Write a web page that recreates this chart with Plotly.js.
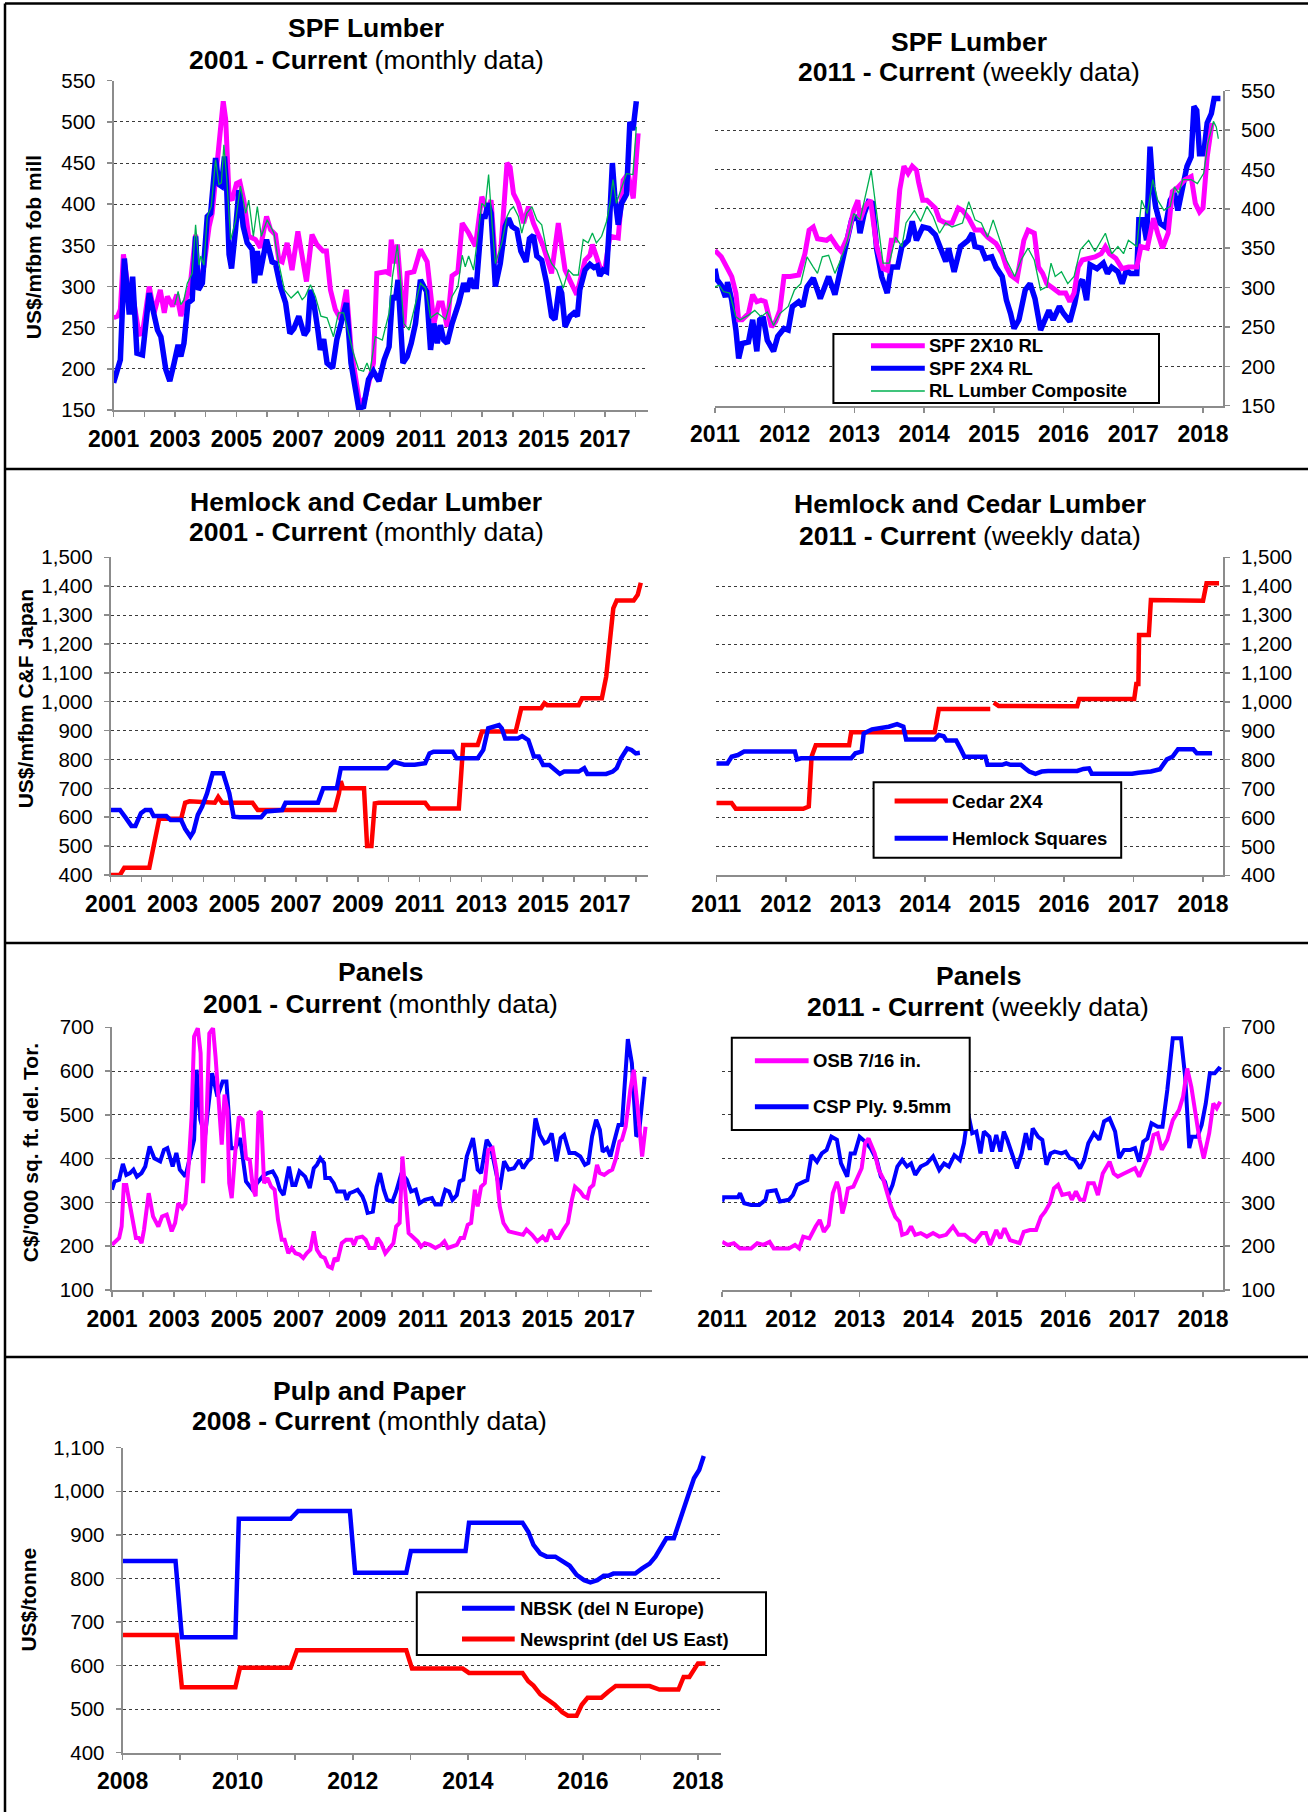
<!DOCTYPE html>
<html><head><meta charset="utf-8">
<script src="https://cdn.plot.ly/plotly-3.0.1.min.js"></script>
<style>html,body{margin:0;padding:0;background:#fff}#chart{width:1308px;height:1812px}</style>
</head><body><div id="chart"></div>
<script>
// ---------------- DATA (year, value) ----------------
const spf2x10Monthly=[[2001.00,262],[2001.13,264],[2001.22,272],[2001.32,339],[2001.45,304],[2001.62,290],[2001.83,242],[2001.94,243],[2002.16,300],[2002.32,268],[2002.52,296],[2002.65,268],[2002.75,288],[2002.92,276],[2003.06,290],[2003.19,264],[2003.35,284],[2003.49,300],[2003.67,363],[2003.76,300],[2003.94,324],[2004.11,373],[2004.21,389],[2004.38,454],[2004.48,494],[2004.57,525],[2004.65,503],[2004.76,409],[2004.86,405],[2005.00,425],[2005.11,427],[2005.24,405],[2005.40,361],[2005.62,357],[2005.78,347],[2005.98,385],[2006.11,369],[2006.27,363],[2006.38,332],[2006.49,330],[2006.65,353],[2006.81,320],[2007.00,367],[2007.14,337],[2007.28,306],[2007.46,363],[2007.62,351],[2007.82,343],[2007.93,343],[2008.06,296],[2008.22,272],[2008.40,260],[2008.58,296],[2008.73,225],[2008.87,187],[2009.01,158],[2009.19,164],[2009.35,187],[2009.46,207],[2009.57,316],[2009.86,318],[2009.97,316],[2010.04,357],[2010.15,328],[2010.24,351],[2010.32,313],[2010.45,251],[2010.56,316],[2010.78,318],[2010.99,345],[2011.21,330],[2011.43,255],[2011.59,280],[2011.70,280],[2011.86,251],[2012.02,313],[2012.21,318],[2012.35,377],[2012.56,365],[2012.78,349],[2012.99,409],[2013.16,393],[2013.29,405],[2013.43,330],[2013.59,335],[2013.81,450],[2013.91,445],[2014.02,413],[2014.18,401],[2014.35,377],[2014.51,397],[2014.67,377],[2014.99,349],[2015.26,316],[2015.48,377],[2015.70,320],[2015.97,296],[2016.08,290],[2016.35,332],[2016.51,338],[2016.59,351],[2016.83,324],[2016.99,320],[2017.16,361],[2017.43,359],[2017.59,429],[2017.75,437],[2017.92,407],[2018.08,486]];
const spf2x4Monthly=[[2001.00,183],[2001.13,197],[2001.22,211],[2001.35,334],[2001.51,266],[2001.62,312],[2001.76,219],[2001.94,217],[2002.16,292],[2002.43,247],[2002.54,239],[2002.70,199],[2002.83,185],[2002.97,207],[2003.10,229],[2003.19,215],[2003.29,231],[2003.42,280],[2003.56,284],[2003.67,361],[2003.76,296],[2003.89,304],[2004.05,385],[2004.16,389],[2004.32,456],[2004.43,424],[2004.51,422],[2004.61,458],[2004.68,422],[2004.76,339],[2004.84,322],[2004.97,369],[2005.08,417],[2005.22,373],[2005.35,353],[2005.51,345],[2005.59,304],[2005.68,343],[2005.76,314],[2005.98,357],[2006.16,330],[2006.27,328],[2006.43,300],[2006.60,280],[2006.74,243],[2006.87,249],[2007.03,264],[2007.21,241],[2007.32,247],[2007.41,296],[2007.52,280],[2007.65,247],[2007.73,223],[2007.84,236],[2007.95,207],[2008.13,201],[2008.27,236],[2008.44,260],[2008.58,280],[2008.73,207],[2008.87,174],[2008.98,152],[2009.14,154],[2009.30,187],[2009.46,197],[2009.64,185],[2009.81,211],[2009.97,227],[2010.08,289],[2010.18,284],[2010.26,308],[2010.35,260],[2010.42,207],[2010.56,215],[2010.69,231],[2010.83,255],[2010.99,308],[2011.10,300],[2011.19,294],[2011.32,223],[2011.43,255],[2011.54,231],[2011.64,253],[2011.75,235],[2011.86,231],[2012.02,255],[2012.24,280],[2012.40,304],[2012.51,294],[2012.62,310],[2012.72,300],[2012.81,300],[2012.89,349],[2012.99,385],[2013.10,385],[2013.19,401],[2013.29,389],[2013.43,300],[2013.59,328],[2013.75,373],[2013.86,383],[2013.97,373],[2014.13,369],[2014.26,343],[2014.43,330],[2014.54,358],[2014.67,362],[2014.78,337],[2014.94,332],[2015.10,304],[2015.26,264],[2015.37,260],[2015.51,300],[2015.59,292],[2015.70,251],[2015.86,264],[2015.99,268],[2016.10,264],[2016.18,296],[2016.35,320],[2016.51,327],[2016.64,323],[2016.75,325],[2016.83,313],[2016.94,320],[2017.05,318],[2017.14,373],[2017.24,450],[2017.32,409],[2017.43,375],[2017.54,401],[2017.70,412],[2017.81,500],[2017.91,490],[2018.02,525]];
const rlCompositeMonthly=[[2002.99,278],[2003.10,294],[2003.19,278],[2003.29,284],[2003.40,304],[2003.56,316],[2003.67,375],[2003.78,326],[2003.84,337],[2003.94,326],[2004.05,385],[2004.18,397],[2004.32,454],[2004.43,424],[2004.51,426],[2004.59,472],[2004.68,433],[2004.81,357],[2004.97,379],[2005.13,422],[2005.30,389],[2005.40,405],[2005.55,361],[2005.68,397],[2005.81,361],[2006.00,381],[2006.22,365],[2006.38,328],[2006.56,296],[2006.78,286],[2007.00,294],[2007.14,284],[2007.24,288],[2007.41,302],[2007.57,288],[2007.75,264],[2007.95,262],[2008.16,239],[2008.32,268],[2008.49,268],[2008.81,219],[2008.98,199],[2009.14,197],[2009.25,207],[2009.35,197],[2009.52,239],[2009.75,235],[2009.97,268],[2010.08,312],[2010.24,351],[2010.35,304],[2010.45,255],[2010.62,247],[2010.83,280],[2010.99,304],[2011.16,298],[2011.32,262],[2011.54,268],[2011.81,260],[2012.02,288],[2012.21,300],[2012.35,338],[2012.45,324],[2012.56,337],[2012.72,320],[2012.83,353],[2012.99,401],[2013.10,397],[2013.21,436],[2013.32,377],[2013.43,328],[2013.64,353],[2013.81,385],[2013.91,393],[2014.02,397],[2014.18,385],[2014.29,365],[2014.45,389],[2014.62,397],[2014.78,381],[2014.94,375],[2015.10,344],[2015.26,328],[2015.43,320],[2015.64,298],[2015.81,320],[2015.97,314],[2016.13,314],[2016.29,357],[2016.45,353],[2016.59,365],[2016.72,353],[2016.89,361],[2017.05,379],[2017.16,401],[2017.26,430],[2017.37,401],[2017.54,420],[2017.70,437],[2017.91,436],[2018.02,494]];

const spf2x10Weekly=[[2011.00,347],[2011.09,339],[2011.18,324],[2011.24,314],[2011.30,293],[2011.34,259],[2011.39,259],[2011.48,267],[2011.54,291],[2011.60,282],[2011.66,284],[2011.72,282],[2011.81,250],[2011.87,257],[2011.93,271],[2011.99,314],[2012.08,314],[2012.20,316],[2012.29,343],[2012.35,373],[2012.41,377],[2012.47,362],[2012.60,360],[2012.66,364],[2012.75,352],[2012.81,346],[2012.90,364],[2012.99,398],[2013.05,411],[2013.08,386],[2013.15,403],[2013.23,411],[2013.32,352],[2013.41,324],[2013.47,322],[2013.53,360],[2013.59,360],[2013.65,424],[2013.71,454],[2013.77,445],[2013.83,454],[2013.89,449],[2013.92,434],[2013.98,411],[2014.04,411],[2014.16,401],[2014.22,386],[2014.31,382],[2014.40,382],[2014.49,401],[2014.55,398],[2014.64,388],[2014.73,373],[2014.82,373],[2014.91,364],[2015.03,356],[2015.12,343],[2015.18,326],[2015.24,316],[2015.33,310],[2015.43,360],[2015.49,373],[2015.58,369],[2015.64,326],[2015.70,318],[2015.76,305],[2015.85,299],[2015.94,293],[2016.03,293],[2016.09,282],[2016.15,293],[2016.21,326],[2016.27,335],[2016.36,337],[2016.45,339],[2016.54,343],[2016.60,352],[2016.66,343],[2016.75,337],[2016.84,324],[2016.93,326],[2017.05,326],[2017.11,352],[2017.20,350],[2017.29,388],[2017.35,369],[2017.42,350],[2017.50,369],[2017.56,422],[2017.65,428],[2017.74,437],[2017.83,441],[2017.89,407],[2017.95,396],[2018.00,401],[2018.06,466],[2018.13,509]];
const spf2x4Weekly=[[2011.00,324],[2011.03,310],[2011.09,303],[2011.15,288],[2011.18,307],[2011.24,284],[2011.30,246],[2011.34,210],[2011.39,229],[2011.48,231],[2011.54,259],[2011.60,219],[2011.64,259],[2011.69,263],[2011.75,233],[2011.84,219],[2011.90,238],[2011.99,248],[2012.05,246],[2012.11,276],[2012.20,282],[2012.26,276],[2012.32,301],[2012.41,312],[2012.51,286],[2012.57,301],[2012.63,314],[2012.72,291],[2012.81,326],[2012.90,356],[2012.96,386],[2013.05,390],[2013.08,369],[2013.14,394],[2013.20,409],[2013.26,407],[2013.32,348],[2013.39,314],[2013.47,293],[2013.53,326],[2013.62,326],[2013.68,352],[2013.77,360],[2013.83,384],[2013.89,360],[2013.98,377],[2014.07,375],[2014.16,367],[2014.25,348],[2014.31,333],[2014.35,350],[2014.43,320],[2014.52,352],[2014.63,360],[2014.69,369],[2014.73,352],[2014.82,350],[2014.88,337],[2014.97,339],[2015.03,326],[2015.12,314],[2015.18,284],[2015.24,267],[2015.29,248],[2015.36,259],[2015.45,297],[2015.52,305],[2015.59,286],[2015.67,246],[2015.73,259],[2015.79,271],[2015.85,259],[2015.94,276],[2016.00,267],[2016.09,257],[2016.16,280],[2016.21,303],[2016.27,310],[2016.33,284],[2016.38,329],[2016.48,324],[2016.57,331],[2016.63,318],[2016.69,326],[2016.78,320],[2016.84,305],[2016.90,322],[2016.96,318],[2017.05,318],[2017.08,386],[2017.14,386],[2017.19,360],[2017.24,479],[2017.28,428],[2017.32,403],[2017.38,382],[2017.46,377],[2017.53,411],[2017.59,420],[2017.64,398],[2017.70,424],[2017.77,454],[2017.83,466],[2017.87,530],[2017.91,525],[2017.95,470],[2018.01,470],[2018.06,509],[2018.12,521],[2018.16,540],[2018.25,540]];
const rlCompositeWeekly=[[2011.00,301],[2011.06,303],[2011.12,295],[2011.21,293],[2011.30,263],[2011.36,259],[2011.48,265],[2011.57,271],[2011.66,263],[2011.75,269],[2011.84,252],[2011.93,267],[2012.05,276],[2012.14,297],[2012.23,305],[2012.32,339],[2012.41,326],[2012.47,318],[2012.54,339],[2012.63,341],[2012.72,318],[2012.81,337],[2012.90,360],[2012.99,394],[2013.08,386],[2013.17,420],[2013.24,449],[2013.32,394],[2013.41,331],[2013.50,331],[2013.59,364],[2013.68,352],[2013.74,382],[2013.86,398],[2013.95,384],[2014.04,403],[2014.13,390],[2014.22,369],[2014.31,382],[2014.40,377],[2014.55,382],[2014.64,409],[2014.73,386],[2014.82,382],[2014.91,364],[2014.99,386],[2015.09,360],[2015.18,335],[2015.30,314],[2015.39,335],[2015.49,350],[2015.58,335],[2015.67,297],[2015.76,301],[2015.82,331],[2015.88,314],[2015.97,320],[2016.06,305],[2016.15,314],[2016.24,348],[2016.36,360],[2016.45,346],[2016.60,369],[2016.69,343],[2016.78,352],[2016.86,343],[2016.93,360],[2017.05,352],[2017.12,411],[2017.20,394],[2017.28,437],[2017.35,411],[2017.44,398],[2017.53,403],[2017.59,428],[2017.65,420],[2017.71,437],[2017.83,437],[2017.92,432],[2018.01,445],[2018.07,483],[2018.15,511],[2018.19,504],[2018.22,489]];

const cedarMonthly=[[2001.00,400],[2001.30,400],[2001.44,425],[2002.25,425],[2002.39,500],[2002.57,595],[2003.28,595],[2003.41,650],[2003.55,655],[2004.37,650],[2004.48,670],[2004.61,650],[2005.59,650],[2005.76,625],[2008.25,625],[2008.39,683],[2008.45,725],[2008.52,700],[2009.20,700],[2009.30,500],[2009.44,500],[2009.55,648],[2009.68,650],[2011.18,650],[2011.32,630],[2012.27,630],[2012.41,850],[2012.88,850],[2013.02,897],[2014.11,897],[2014.29,977],[2014.93,977],[2015.04,995],[2015.13,988],[2016.15,988],[2016.26,1012],[2016.90,1012],[2017.04,1087],[2017.14,1190],[2017.27,1323],[2017.38,1350],[2017.93,1350],[2018.06,1370],[2018.16,1412]];
const hemlockMonthly=[[2001.00,625],[2001.30,625],[2001.50,596],[2001.67,570],[2001.80,570],[2001.98,614],[2002.12,625],[2002.29,625],[2002.39,604],[2002.80,604],[2002.94,590],[2003.28,590],[2003.41,560],[2003.58,533],[2003.68,550],[2003.82,608],[2003.96,637],[2004.12,683],[2004.30,752],[2004.64,752],[2004.84,683],[2004.98,602],[2005.18,600],[2005.87,600],[2006.03,620],[2006.55,625],[2006.66,650],[2007.71,650],[2007.88,700],[2008.32,700],[2008.45,770],[2009.95,770],[2010.16,792],[2010.50,782],[2010.84,782],[2011.04,787],[2011.18,787],[2011.32,821],[2011.45,827],[2012.07,827],[2012.20,804],[2012.88,804],[2013.06,833],[2013.22,908],[2013.57,919],[2013.66,908],[2013.77,873],[2014.18,873],[2014.32,881],[2014.52,867],[2014.70,810],[2014.86,810],[2015.00,781],[2015.20,781],[2015.34,770],[2015.54,750],[2015.68,758],[2016.15,758],[2016.33,770],[2016.43,750],[2017.04,750],[2017.25,758],[2017.38,770],[2017.52,804],[2017.72,838],[2017.86,833],[2018.00,821],[2018.13,823]];
const cedarWeekly=[[2011.00,650],[2011.22,650],[2011.28,630],[2012.25,630],[2012.33,638],[2012.37,810],[2012.43,850],[2012.91,850],[2012.94,895],[2014.14,895],[2014.20,975],[2014.94,975],[2014.96,null],[2014.99,997],[2015.06,986],[2016.19,985],[2016.22,1010],[2017.01,1010],[2017.04,1062],[2017.07,1062],[2017.08,1231],[2017.22,1231],[2017.25,1352],[2018.00,1350],[2018.05,1410],[2018.23,1410]];
const hemlockWeekly=[[2011.00,787],[2011.16,787],[2011.22,810],[2011.31,816],[2011.40,828],[2012.13,828],[2012.16,801],[2012.22,805],[2012.94,805],[2013.00,822],[2013.09,828],[2013.12,891],[2013.24,905],[2013.33,908],[2013.48,914],[2013.60,923],[2013.69,914],[2013.73,870],[2014.14,870],[2014.20,885],[2014.27,881],[2014.31,866],[2014.45,866],[2014.51,839],[2014.57,810],[2014.87,810],[2014.90,782],[2015.11,782],[2015.17,787],[2015.23,782],[2015.38,782],[2015.44,770],[2015.50,759],[2015.59,751],[2015.68,759],[2015.77,761],[2016.19,761],[2016.28,768],[2016.36,770],[2016.40,751],[2016.98,751],[2017.07,755],[2017.25,759],[2017.38,767],[2017.42,782],[2017.48,801],[2017.56,810],[2017.64,836],[2017.86,836],[2017.91,822],[2018.13,822]];

const plyMonthly=[[2001.00,329],[2001.08,348],[2001.23,352],[2001.35,388],[2001.46,363],[2001.58,367],[2001.69,375],[2001.80,359],[2001.95,367],[2002.07,382],[2002.21,428],[2002.30,413],[2002.36,401],[2002.55,394],[2002.67,420],[2002.78,424],[2002.95,382],[2003.07,413],[2003.18,375],[2003.36,359],[2003.53,405],[2003.64,443],[2003.72,603],[2003.84,489],[2003.99,451],[2004.22,595],[2004.39,542],[2004.56,576],[2004.68,576],[2004.83,424],[2004.97,424],[2005.12,447],[2005.31,348],[2005.43,336],[2005.56,325],[2005.66,344],[2005.75,352],[2005.89,363],[2006.00,367],[2006.17,371],[2006.29,356],[2006.40,329],[2006.52,317],[2006.60,344],[2006.69,382],[2006.80,340],[2006.90,340],[2007.03,371],[2007.21,359],[2007.36,333],[2007.49,378],[2007.59,386],[2007.70,401],[2007.82,390],[2007.86,356],[2008.01,356],[2008.13,344],[2008.24,325],[2008.47,325],[2008.55,306],[2008.64,321],[2008.78,325],[2008.90,329],[2009.05,314],[2009.14,298],[2009.22,276],[2009.39,279],[2009.51,336],[2009.62,367],[2009.74,329],[2009.85,306],[2010.02,302],[2010.14,325],[2010.31,367],[2010.48,352],[2010.62,325],[2010.77,329],[2010.89,298],[2011.06,306],[2011.29,310],[2011.40,295],[2011.58,295],[2011.72,329],[2011.84,325],[2011.95,306],[2012.09,317],[2012.18,348],[2012.30,352],[2012.41,405],[2012.61,447],[2012.76,375],[2012.87,367],[2013.05,443],[2013.18,428],[2013.30,382],[2013.47,329],[2013.61,394],[2013.76,375],[2013.93,378],[2014.10,397],[2014.22,378],[2014.37,394],[2014.48,401],[2014.62,492],[2014.76,454],[2014.91,435],[2015.02,439],[2015.14,458],[2015.29,394],[2015.43,447],[2015.54,454],[2015.71,413],[2015.89,413],[2016.06,405],[2016.21,386],[2016.32,390],[2016.44,451],[2016.57,489],[2016.69,466],[2016.78,416],[2016.92,424],[2017.03,405],[2017.15,439],[2017.29,477],[2017.40,477],[2017.59,673],[2017.72,618],[2017.86,451],[2017.95,458],[2018.13,587]];
const osbMonthly=[[2001.00,203],[2001.11,211],[2001.23,219],[2001.31,245],[2001.38,340],[2001.46,340],[2001.58,291],[2001.69,257],[2001.77,219],[2001.86,219],[2001.95,207],[2002.03,238],[2002.18,321],[2002.32,268],[2002.49,245],[2002.61,268],[2002.76,272],[2002.92,234],[2003.03,253],[2003.13,298],[2003.26,287],[2003.36,298],[2003.47,390],[2003.56,496],[2003.64,679],[2003.76,698],[2003.85,641],[2003.93,344],[2004.05,511],[2004.13,686],[2004.25,698],[2004.33,633],[2004.45,511],[2004.53,432],[2004.62,546],[2004.71,511],[2004.77,344],[2004.85,310],[2004.97,420],[2005.08,496],[2005.20,489],[2005.31,401],[2005.43,397],[2005.54,329],[2005.62,314],[2005.71,504],[2005.79,508],[2005.89,344],[2006.00,356],[2006.12,336],[2006.23,329],[2006.34,260],[2006.46,215],[2006.55,215],[2006.67,184],[2006.78,196],[2006.90,184],[2007.03,181],[2007.15,173],[2007.26,184],[2007.38,192],[2007.49,234],[2007.59,192],[2007.72,177],[2007.84,173],[2007.95,154],[2008.07,150],[2008.16,173],[2008.25,166],[2008.39,207],[2008.53,215],[2008.70,215],[2008.78,203],[2008.87,219],[2009.05,222],[2009.16,215],[2009.28,196],[2009.45,196],[2009.54,219],[2009.66,207],[2009.79,184],[2009.93,196],[2010.05,207],[2010.14,245],[2010.25,253],[2010.34,405],[2010.43,329],[2010.54,230],[2010.66,222],[2010.83,211],[2010.94,199],[2011.06,207],[2011.23,203],[2011.40,196],[2011.58,203],[2011.69,211],[2011.80,196],[2011.98,199],[2012.09,203],[2012.21,219],[2012.32,219],[2012.44,249],[2012.55,253],[2012.67,329],[2012.76,291],[2012.87,336],[2012.99,344],[2013.10,420],[2013.24,424],[2013.36,375],[2013.47,291],[2013.59,253],[2013.76,234],[2013.99,230],[2014.22,226],[2014.33,238],[2014.51,226],[2014.68,211],[2014.85,222],[2014.97,211],[2015.10,238],[2015.25,219],[2015.37,219],[2015.52,238],[2015.66,253],[2015.79,306],[2015.89,336],[2016.06,325],[2016.17,314],[2016.29,310],[2016.37,333],[2016.48,340],[2016.60,386],[2016.69,367],[2016.83,363],[2016.98,371],[2017.09,375],[2017.21,401],[2017.32,439],[2017.40,443],[2017.52,473],[2017.67,557],[2017.78,603],[2017.90,519],[2018.05,405],[2018.16,473]];
const plyWeekly=[[2011.00,302],[2011.02,312],[2011.23,312],[2011.26,321],[2011.32,298],[2011.42,294],[2011.54,294],[2011.63,306],[2011.66,325],[2011.78,328],[2011.84,302],[2011.97,306],[2012.03,317],[2012.09,340],[2012.18,347],[2012.24,351],[2012.30,408],[2012.38,393],[2012.45,412],[2012.52,420],[2012.59,450],[2012.67,443],[2012.73,389],[2012.82,359],[2012.87,412],[2012.93,412],[2013.00,450],[2013.08,439],[2013.16,424],[2013.25,397],[2013.31,359],[2013.37,347],[2013.42,317],[2013.48,340],[2013.55,382],[2013.62,397],[2013.69,382],[2013.75,389],[2013.81,363],[2013.89,382],[2013.98,389],[2014.07,405],[2014.16,374],[2014.23,389],[2014.30,382],[2014.38,408],[2014.46,397],[2014.52,435],[2014.58,504],[2014.64,458],[2014.70,462],[2014.76,412],[2014.81,462],[2014.89,450],[2014.93,416],[2014.99,454],[2015.05,416],[2015.10,462],[2015.15,443],[2015.22,412],[2015.29,378],[2015.36,412],[2015.42,458],[2015.48,420],[2015.52,469],[2015.60,450],[2015.66,443],[2015.72,386],[2015.78,412],[2015.84,416],[2015.94,412],[2016.00,416],[2016.06,401],[2016.13,397],[2016.21,378],[2016.27,397],[2016.33,435],[2016.41,458],[2016.49,443],[2016.56,485],[2016.64,492],[2016.72,462],[2016.78,401],[2016.85,420],[2016.94,420],[2017.01,424],[2017.07,393],[2017.13,439],[2017.19,446],[2017.25,481],[2017.34,473],[2017.41,473],[2017.48,557],[2017.56,675],[2017.68,675],[2017.74,587],[2017.80,424],[2017.84,450],[2017.92,450],[2017.98,477],[2018.04,526],[2018.10,595],[2018.17,595],[2018.23,606],[2018.26,603]];
const osbWeekly=[[2011.00,210],[2011.08,203],[2011.17,207],[2011.26,195],[2011.42,195],[2011.51,207],[2011.60,203],[2011.69,210],[2011.75,195],[2011.97,195],[2012.06,203],[2012.12,195],[2012.18,222],[2012.27,218],[2012.36,245],[2012.42,260],[2012.48,233],[2012.55,248],[2012.61,321],[2012.67,347],[2012.70,332],[2012.75,275],[2012.79,298],[2012.83,332],[2012.91,336],[2012.97,359],[2013.03,378],[2013.08,435],[2013.13,446],[2013.22,412],[2013.28,374],[2013.34,355],[2013.40,321],[2013.46,290],[2013.52,267],[2013.58,256],[2013.62,226],[2013.69,230],[2013.75,245],[2013.81,226],[2013.89,230],[2013.98,222],[2014.07,230],[2014.16,222],[2014.26,226],[2014.36,245],[2014.44,226],[2014.53,226],[2014.62,214],[2014.68,210],[2014.78,230],[2014.84,230],[2014.90,203],[2014.99,237],[2015.05,218],[2015.11,241],[2015.19,214],[2015.26,210],[2015.33,207],[2015.39,233],[2015.48,237],[2015.57,237],[2015.64,267],[2015.70,279],[2015.77,298],[2015.83,332],[2015.89,340],[2015.95,317],[2016.05,321],[2016.09,306],[2016.15,325],[2016.21,306],[2016.27,306],[2016.33,344],[2016.41,344],[2016.47,317],[2016.54,366],[2016.60,382],[2016.64,393],[2016.70,366],[2016.76,359],[2016.85,366],[2016.94,374],[2017.01,378],[2017.07,359],[2017.15,389],[2017.22,412],[2017.28,454],[2017.34,458],[2017.40,420],[2017.48,443],[2017.56,488],[2017.65,511],[2017.71,542],[2017.77,606],[2017.83,564],[2017.89,496],[2017.95,443],[2018.01,401],[2018.09,458],[2018.15,526],[2018.20,515],[2018.25,530]];

const nbskMonthly=[[2008.00,840],[2008.92,840],[2009.03,665],[2009.96,665],[2010.02,937],[2010.92,937],[2011.05,955],[2011.95,955],[2012.04,813],[2012.93,813],[2013.01,863],[2013.96,863],[2014.02,928],[2014.95,928],[2015.05,907],[2015.14,877],[2015.26,857],[2015.37,850],[2015.52,850],[2015.64,840],[2015.77,829],[2015.89,808],[2016.02,796],[2016.13,791],[2016.25,796],[2016.36,806],[2016.44,806],[2016.53,811],[2016.91,811],[2017.03,823],[2017.16,834],[2017.26,850],[2017.37,877],[2017.45,892],[2017.58,892],[2017.66,926],[2017.76,965],[2017.83,991],[2017.93,1030],[2018.02,1049],[2018.10,1081]];
const newsprintMonthly=[[2008.00,670],[2008.94,670],[2009.03,550],[2009.96,550],[2010.04,595],[2010.92,595],[2011.03,635],[2012.93,635],[2013.03,593],[2013.91,593],[2014.02,583],[2014.95,583],[2015.05,564],[2015.14,554],[2015.26,534],[2015.39,521],[2015.51,510],[2015.64,493],[2015.74,485],[2015.89,485],[2015.98,510],[2016.08,526],[2016.32,526],[2016.44,540],[2016.57,553],[2017.16,553],[2017.33,545],[2017.66,545],[2017.75,574],[2017.85,574],[2018.00,605],[2018.13,605]];

// ---------------- TEXT ----------------
const titleLine1=['SPF Lumber','SPF Lumber','Hemlock and Cedar Lumber','Hemlock and Cedar Lumber','Panels','Panels','Pulp and Paper'];
const titleBold2=['2001 - Current','2011 - Current','2001 - Current','2011 - Current','2001 - Current','2011 - Current','2008 - Current'];
const titleRest2=['(monthly data)','(weekly data)','(monthly data)','(weekly data)','(monthly data)','(weekly data)','(monthly data)'];
const yTitles=['US$/mfbm fob mill','US$/mfbm C&F Japan',"C$/'000 sq. ft. del. Tor.",'US$/tonne'];
const legSPF=['SPF 2X10 RL','SPF 2X4 RL','RL Lumber Composite'];
const legHC=['Cedar 2X4','Hemlock Squares'];
const legPanels=['OSB 7/16 in.','CSP Ply. 9.5mm'];
const legPulp=['NBSK (del N Europe)','Newsprint (del US East)'];

// ---------------- LAYOUT HELPERS ----------------
const W=1308,H=1812;
const fx=p=>p/W, fy=p=>1-p/H;
const FONT='Liberation Sans, Arial, Helvetica, sans-serif';
const AXC='#8c8c8c';
const BLUE='#0000ff',MAG='#ff00ff',GRN='#00b050',RED='#ff0000';

function xa(l,r,range,tick0,dtick,anchor){
  return {domain:[fx(l),fx(r)],range:range,anchor:anchor,type:'linear',showline:true,linecolor:AXC,linewidth:2,
    ticks:'outside',ticklen:5,tickwidth:1.5,tickcolor:AXC,tickmode:'linear',tick0:tick0,dtick:dtick,
    minor:{dtick:1,tick0:tick0,ticks:'outside',ticklen:5,tickwidth:1.5,tickcolor:AXC,showgrid:false},
    showgrid:false,zeroline:false,fixedrange:true,
    tickfont:{family:FONT,size:23,color:'#000',weight:'bold'},ticklabelstandoff:2};
}
function ya(t,b,range,dtick,anchor,side,fmt){
  return {domain:[fy(b),fy(t)],range:range,anchor:anchor,side:side,showline:true,linecolor:AXC,linewidth:2,
    ticks:'outside',ticklen:5,tickwidth:1.5,tickcolor:AXC,tickmode:'linear',tick0:range[0],dtick:dtick,
    showgrid:true,gridcolor:'#3a3a3a',griddash:'dot',gridwidth:1,zeroline:false,fixedrange:true,
    tickfont:{family:FONT,size:20.5,color:'#000'},tickformat:fmt||'',ticklabelstandoff:7};
}
function tr(d,xr,yr,color,width){
  return {type:'scatter',mode:'lines',x:d.map(p=>p[0]),y:d.map(p=>p[1]),xaxis:xr,yaxis:yr,
    line:{color:color,width:width},connectgaps:false,hoverinfo:'skip',showlegend:false};
}

const traces=[
  tr(spf2x10Monthly,'x','y',MAG,5),
  tr(spf2x4Monthly,'x','y',BLUE,5.5),
  tr(rlCompositeMonthly,'x','y',GRN,1.3),
  tr(spf2x4Weekly,'x2','y2',BLUE,5.5),
  tr(spf2x10Weekly,'x2','y2',MAG,5),
  tr(rlCompositeWeekly,'x2','y2',GRN,1.3),
  tr(cedarMonthly,'x3','y3',RED,4.5),
  tr(hemlockMonthly,'x3','y3',BLUE,4.5),
  tr(cedarWeekly,'x4','y4',RED,4.5),
  tr(hemlockWeekly,'x4','y4',BLUE,4.5),
  tr(plyMonthly,'x5','y5',BLUE,4),
  tr(osbMonthly,'x5','y5',MAG,4),
  tr(plyWeekly,'x6','y6',BLUE,4),
  tr(osbWeekly,'x6','y6',MAG,4),
  tr(nbskMonthly,'x7','y7',BLUE,4.5),
  tr(newsprintMonthly,'x7','y7',RED,4.5)
];

const layout={
  width:W,height:H,margin:{l:0,r:0,t:0,b:0},paper_bgcolor:'#fff',plot_bgcolor:'rgba(0,0,0,0)',
  font:{family:FONT,color:'#000'},showlegend:false,
  xaxis: xa(113.6,648,[2001,2018.4],2001,2,'y'),
  yaxis: ya(80.7,410,[150,550],50,'x','left'),
  xaxis2:xa(715,1222.8,[2011,2018.284],2011,1,'y2'),
  yaxis2:ya(90.7,405.7,[150,550],50,'x2','right'),
  xaxis3:xa(110.7,648.2,[2001,2018.4],2001,2,'y3'),
  yaxis3:ya(557.3,875,[400,1500],100,'x3','left',',d'),
  xaxis4:xa(716.3,1222.8,[2011,2018.284],2011,1,'y4'),
  yaxis4:ya(557.3,875.3,[400,1500],100,'x4','right',',d'),
  xaxis5:xa(112,652.4,[2001,2018.38],2001,2,'y5'),
  yaxis5:ya(1027.3,1290,[100,700],100,'x5','left'),
  xaxis6:xa(722.2,1222.8,[2011,2018.288],2011,1,'y6'),
  yaxis6:ya(1027.3,1290,[100,700],100,'x6','right'),
  xaxis7:xa(122.6,720.8,[2008,2018.396],2008,2,'y7'),
  yaxis7:ya(1447.7,1752.7,[400,1100],100,'x7','left',',d'),
  shapes:[],annotations:[]
};

// frame lines
const frameLine=(x0,y0,x1,y1)=>({type:'line',xref:'paper',yref:'paper',x0:fx(x0),y0:fy(y0),x1:fx(x1),y1:fy(y1),line:{color:'#000',width:2.5},layer:'above'});
layout.shapes.push(frameLine(5,3.5,1308,3.5),frameLine(5,469,1308,469),frameLine(5,943,1308,943),frameLine(5,1357,1308,1357),frameLine(5,3.5,5,1812));

// titles
const titlePos=[[366,28.5,59.5],[969,41.7,71.7],[366,502.3,532.3],[969.7,504,535.7],[381,972.3,1004],[978.5,975.7,1007.3],[369.8,1390.7,1420.7]];
titlePos.forEach((p,i)=>{
  layout.annotations.push({xref:'paper',yref:'paper',x:fx(p[0]),y:fy(p[1]),xanchor:'center',yanchor:'middle',showarrow:false,
    text:'<b>'+titleLine1[i]+'</b>',font:{family:FONT,size:26.5,color:'#000'}});
  layout.annotations.push({xref:'paper',yref:'paper',x:fx(p[0]),y:fy(p[2]),xanchor:'center',yanchor:'middle',showarrow:false,
    text:'<b>'+titleBold2[i]+'</b> '+titleRest2[i],font:{family:FONT,size:26.5,color:'#000'}});
});
// y titles
const yTitlePos=[[33.7,247.5],[25.3,699],[30.3,1153],[27.6,1600]];
yTitlePos.forEach((p,i)=>{
  layout.annotations.push({xref:'paper',yref:'paper',x:fx(p[0]),y:fy(p[1]),xanchor:'center',yanchor:'middle',showarrow:false,
    textangle:-90,text:'<b>'+yTitles[i]+'</b>',font:{family:FONT,size:21,color:'#000'}});
});

// legends (box, sample lines, text)
function legend(box,lineX0,lineX1,textX,rows,names,colors,widths,fsize){
  layout.shapes.push({type:'rect',xref:'paper',yref:'paper',x0:fx(box[0]),x1:fx(box[2]),y0:fy(box[3]),y1:fy(box[1]),
    line:{color:'#000',width:2},fillcolor:'#fff',layer:'above'});
  rows.forEach((ry,i)=>{
    layout.shapes.push({type:'line',xref:'paper',yref:'paper',x0:fx(lineX0),x1:fx(lineX1),y0:fy(ry),y1:fy(ry),
      line:{color:colors[i],width:widths[i]},layer:'above'});
    layout.annotations.push({xref:'paper',yref:'paper',x:fx(textX),y:fy(ry),xanchor:'left',yanchor:'middle',showarrow:false,
      text:'<b>'+names[i]+'</b>',font:{family:FONT,size:fsize,color:'#000'}});
  });
}
legend([833.4,334,1159,403],871,924.8,927,[345.7,368.3,391],legSPF,[MAG,BLUE,GRN],[5,5,1.5],18.5);
legend([873.6,782.3,1121.2,857.7],894.6,947.9,950,[801,838.3],legHC,[RED,BLUE],[5,5],18.5);
legend([731.8,1037.7,969.7,1130],754.9,808.6,811,[1060.7,1106.7],legPanels,[MAG,BLUE],[5,5],18.5);
legend([416.8,1592.3,766,1655],462,514.7,517.5,[1608.3,1639],legPulp,[BLUE,RED],[5,5],18.5);

Plotly.newPlot('chart',traces,layout,{staticPlot:true,displayModeBar:false});
</script></body></html>
